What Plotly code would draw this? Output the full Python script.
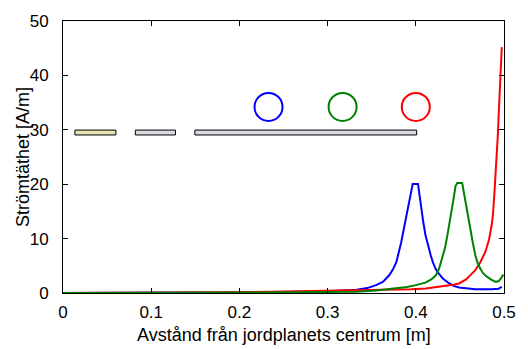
import plotly.graph_objects as go

# Current density along the distance from the planet centre, one curve per sphere position
blue_x = [0.0, 0.1, 0.2, 0.25, 0.3, 0.32, 0.333, 0.345, 0.355, 0.363, 0.370, 0.374, 0.378,
          0.3834, 0.386, 0.389, 0.3915, 0.394, 0.3965, 0.4025, 0.406, 0.4085, 0.411, 0.414,
          0.417, 0.4195, 0.4226, 0.4264, 0.431, 0.4375, 0.443, 0.449, 0.458, 0.4675, 0.486,
          0.494, 0.4975]
blue_y = [0.02, 0.04, 0.1, 0.18, 0.3, 0.45, 0.6, 0.9, 1.45, 2.1, 3.3, 4.3, 5.7,
          9.3, 11.4, 13.6, 15.8, 17.8, 20.05, 20.05, 15.4, 13.0, 10.6, 8.5,
          6.9, 5.6, 4.4, 3.5, 2.6, 1.8, 1.3, 1.0, 0.8, 0.7, 0.7,
          0.8, 1.15]

green_x = [0.0, 0.1, 0.2, 0.26, 0.3, 0.333, 0.355, 0.378, 0.39, 0.4, 0.411, 0.4175, 0.4226,
           0.4264, 0.430, 0.433, 0.4357, 0.4385, 0.4413, 0.443, 0.445, 0.447, 0.4526, 0.4563,
           0.459, 0.4619, 0.4647, 0.4675, 0.470, 0.473, 0.4765, 0.4806, 0.485, 0.4907, 0.494,
           0.4965, 0.4993]
green_y = [0.02, 0.03, 0.06, 0.12, 0.2, 0.24, 0.45, 0.85, 1.1, 1.45, 1.9, 2.5, 3.2,
           4.5, 6.3, 8.2, 10.5, 13.0, 15.4, 17.5, 19.6, 20.2, 20.2, 16.6,
           14.2, 11.8, 9.2, 6.9, 5.6, 4.5, 3.6, 3.0, 2.5, 2.05, 2.2,
           2.7, 3.4]

red_x = [0.0, 0.1, 0.2, 0.235, 0.27, 0.3, 0.333, 0.36, 0.378, 0.395, 0.4114, 0.4264, 0.44,
         0.449, 0.457, 0.4675, 0.473, 0.4787, 0.483, 0.486, 0.4875, 0.489, 0.4905, 0.4918,
         0.4930, 0.4942, 0.4955, 0.4965, 0.4975]
red_y = [0.01, 0.03, 0.12, 0.25, 0.32, 0.38, 0.45, 0.5, 0.55, 0.7, 0.85, 1.15, 1.45,
         1.76, 2.5, 4.2, 5.6, 7.5, 9.8, 12.4, 14.5, 18.0, 21.5, 25.0,
         29.0, 33.6, 38.1, 42.7, 45.2]

# Planet segments (bars) and sphere positions (rings)
bar_x0 = [0.0135, 0.082, 0.1495]
bar_x1 = [0.060, 0.1275, 0.401]
bar_y0 = 29.05
bar_y1 = 29.95
bar_colors = ["#e4e2b4", "#d9dae2", "#d9dae2"]

ring_x = [0.233, 0.317, 0.400]
ring_y = [34.2, 34.2, 34.2]
ring_colors = ["#0000ff", "#008000", "#ff0000"]

x_ticks = [0, 0.1, 0.2, 0.3, 0.4, 0.5]
x_tick_text = ["0", "0.1", "0.2", "0.3", "0.4", "0.5"]
y_ticks = [0, 10, 20, 30, 40, 50]

x_title = "Avstånd från jordplanets centrum [m]"
y_title = "Strömtäthet [A/m]"

fig = go.Figure()

for x, y, c in [(blue_x, blue_y, "#0000ff"), (red_x, red_y, "#ff0000"), (green_x, green_y, "#008000")]:
    fig.add_trace(go.Scatter(x=x, y=y, mode="lines", line=dict(color=c, width=2),
                             showlegend=False, hoverinfo="skip"))

for rx, ry, rc in zip(ring_x, ring_y, ring_colors):
    fig.add_trace(go.Scatter(x=[rx], y=[ry], mode="markers", showlegend=False,
                             marker=dict(symbol="circle-open", size=28,
                                         line=dict(color=rc, width=2), color=rc)))

for x0, x1, fc in zip(bar_x0, bar_x1, bar_colors):
    fig.add_shape(type="rect", xref="x", yref="y", x0=x0, x1=x1, y0=bar_y0, y1=bar_y1,
                  fillcolor=fc, line=dict(color="black", width=1), layer="above")

# Axis titles placed as annotations relative to the plot area
fig.add_annotation(text=x_title, xref="paper", yref="paper", x=0.5, y=0,
                   xanchor="center", yanchor="middle", yshift=-42, showarrow=False,
                   font=dict(size=18))
fig.add_annotation(text=y_title, xref="paper", yref="paper", x=0, y=0.5,
                   xanchor="center", yanchor="middle", xshift=-40, textangle=-90,
                   showarrow=False, font=dict(size=18))

font_family = "Liberation Sans, Arial, sans-serif"
fig.update_layout(
    width=528, height=349,
    margin=dict(l=63, r=19, t=18, b=56),
    paper_bgcolor="white", plot_bgcolor="white",
    font=dict(family=font_family, size=16, color="black"),
    xaxis=dict(range=[0, 0.5], tickvals=x_ticks, ticktext=x_tick_text,
               showline=True, linecolor="black", linewidth=1, mirror="allticks",
               ticks="inside", ticklen=5, tickcolor="black", showgrid=False, zeroline=False,
               tickfont=dict(size=17), ticklabelstandoff=4),
    yaxis=dict(range=[0, 50], tickvals=y_ticks,
               showline=True, linecolor="black", linewidth=1, mirror="allticks",
               ticks="inside", ticklen=5, tickcolor="black", showgrid=False, zeroline=False,
               tickfont=dict(size=17), ticklabelstandoff=10),
)

fig.write_html("out.html")
